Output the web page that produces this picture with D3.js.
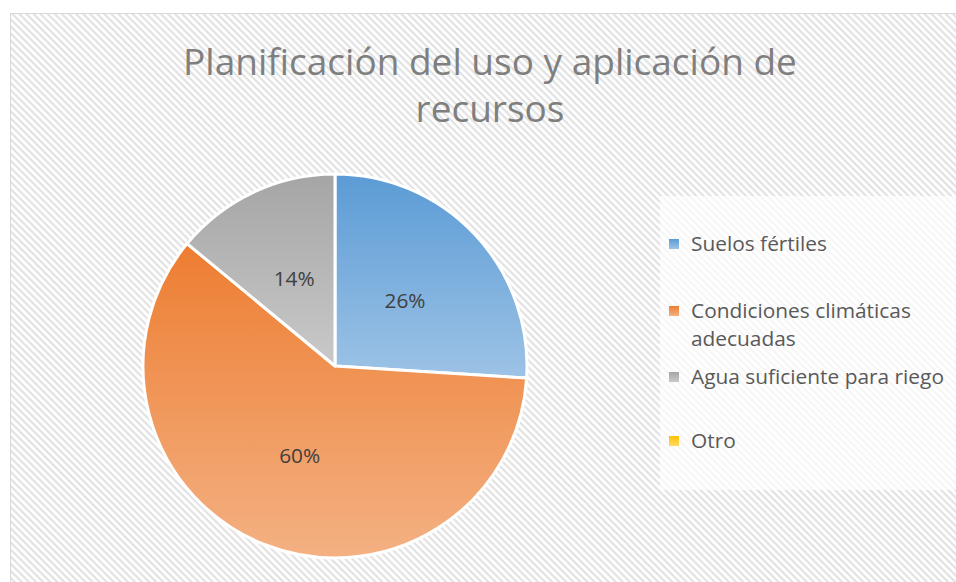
<!DOCTYPE html>
<html>
<head>
<meta charset="utf-8">
<script src="https://cdn.jsdelivr.net/npm/d3@7/dist/d3.min.js"></script>
<style>
  html, body { margin: 0; padding: 0; background: #fff; }
  svg { display: block; }
</style>
</head>
<body>
<svg id="chart" width="956" height="582"></svg>
<script>
// Chart data
const title = ["Planificación del uso y aplicación de", "recursos"];
const categories = ["Suelos fértiles", "Condiciones climáticas adecuadas", "Agua suficiente para riego", "Otro"];
const legendLines = [["Suelos fértiles"], ["Condiciones climáticas", "adecuadas"], ["Agua suficiente para riego"], ["Otro"]];
const values = [26, 60, 14, 0];
const labels = ["26%", "60%", "14%", ""];
const colorsTop = ["#5b9bd5", "#ed7d31", "#a5a5a5", "#ffc000"];
const colorsBottom = ["#9dc3e6", "#f4b183", "#c9c9c9", "#ffd966"];

const W = 956, H = 582;
const font = "'Open Sans', sans-serif";
const svg = d3.select("#chart");
const defs = svg.append("defs");

// Shrinks or grows a text's font size so that it spans the given width
function fitWidth(sel, width) {
  const node = sel.node();
  const base = parseFloat(sel.attr("font-size"));
  const w = node.getComputedTextLength();
  const size = base * width / w;
  sel.attr("font-size", size);
  return size;
}

// Diagonal hatch background
const pat = defs.append("pattern")
  .attr("id", "hatch").attr("patternUnits", "userSpaceOnUse")
  .attr("width", 5).attr("height", 5)
  .attr("patternTransform", "rotate(45)");
pat.append("rect").attr("width", 5).attr("height", 5).attr("fill", "#ffffff");
pat.append("rect").attr("x", 0).attr("y", 0).attr("width", 5).attr("height", 2.2).attr("fill", "#e2e2e2");

// Per-slice vertical gradients
categories.forEach((c, i) => {
  const g = defs.append("linearGradient").attr("id", "grad" + i)
    .attr("x1", 0).attr("y1", 0).attr("x2", 0).attr("y2", 1);
  g.append("stop").attr("offset", "0%").attr("stop-color", colorsTop[i]);
  g.append("stop").attr("offset", "100%").attr("stop-color", colorsBottom[i]);
});

// Chart area
svg.append("rect").attr("x", 10.5).attr("y", 13.5).attr("width", W).attr("height", H)
  .attr("fill", "url(#hatch)").attr("stroke", "#d9d9d9").attr("stroke-width", 1);

// Title
const titleText = svg.append("g").selectAll("text").data(title).join("text")
  .attr("x", 490).attr("y", (d, i) => 75 + i * 47)
  .attr("text-anchor", "middle")
  .attr("font-family", font).attr("font-size", 37)
  .attr("fill", "#7f7f7f")
  .text(d => d);
const titleSize = fitWidth(d3.select(titleText.nodes()[0]), 614);
titleText.attr("font-size", titleSize);

// Pie
const cx = 335, cy = 366, r = 192;
const pie = d3.pie().sort(null).value(d => d.v);
const arcs = pie(values.map((v, i) => ({ v, i })));
const arc = d3.arc().innerRadius(0).outerRadius(r);
const labelArc = d3.arc().innerRadius(0).outerRadius(r);

const pg = svg.append("g").attr("transform", `translate(${cx},${cy})`);
pg.selectAll("path").data(arcs.filter(a => a.data.v > 0)).join("path")
  .attr("d", arc)
  .attr("fill", d => `url(#grad${d.data.i})`)
  .attr("stroke", "#ffffff").attr("stroke-width", 3).attr("stroke-linejoin", "round");

const lbl = pg.selectAll("text").data(arcs.filter(a => a.data.v > 0)).join("text")
  .attr("transform", d => `translate(${labelArc.centroid(d)})`)
  .attr("text-anchor", "middle").attr("dy", "0.35em")
  .attr("font-family", font).attr("font-size", 20)
  .attr("fill", "#404040")
  .text(d => labels[d.data.i]);
const lblSize = fitWidth(d3.select(lbl.nodes()[0]), 41);
lbl.attr("font-size", lblSize);

// Legend
const lg = svg.append("g");
lg.append("rect").attr("x", 660).attr("y", 196).attr("width", 300).attr("height", 294)
  .attr("fill", "#ffffff").attr("fill-opacity", 0.7);
const itemY = [244, 311, 377, 441];
const lineH = 28;
const legendTexts = [];
legendLines.forEach((lines, i) => {
  lg.append("rect").attr("x", 669).attr("y", itemY[i] - 5).attr("width", 10).attr("height", 10)
    .attr("fill", `url(#grad${i})`);
  lines.forEach((t, j) => {
    legendTexts.push(lg.append("text").attr("x", 691).attr("y", itemY[i] + j * lineH)
      .attr("dy", "0.35em")
      .attr("font-family", font).attr("font-size", 20)
      .attr("fill", "#595959")
      .text(t));
  });
});
const legSize = fitWidth(legendTexts[3], 253);
legendTexts.forEach(t => t.attr("font-size", legSize));
</script>
</body>
</html>
